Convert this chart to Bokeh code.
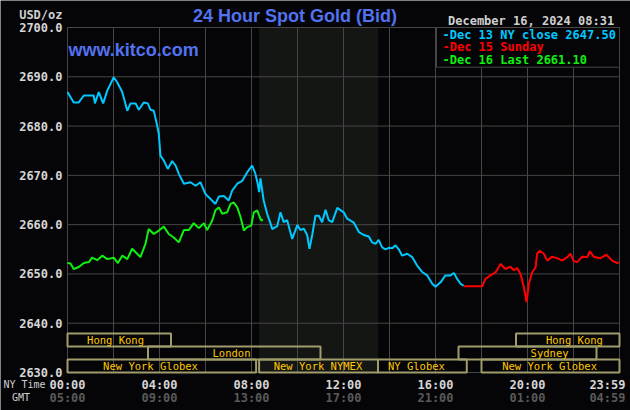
from bokeh.plotting import figure
from bokeh.models import Range1d, ColumnDataSource
from bokeh.core.properties import value
from bokeh.embed import file_html
from bokeh.resources import INLINE

# ---------------- data ----------------
# Dec 13 (NY close 2647.50) - hours of the NY day, price
dec13_h = [0.0, 0.27, 0.49, 0.71, 1.14, 1.19, 1.36, 1.55, 1.73, 2.01, 2.16, 2.38, 2.60, 2.74, 2.96,
           3.10, 3.32, 3.49, 3.61, 3.75, 3.90, 3.97, 4.04, 4.19, 4.36, 4.55, 4.70, 4.84, 5.06, 5.35,
           5.57, 5.78, 6.00, 6.22, 6.43, 6.58, 6.80, 7.01, 7.16, 7.38, 7.60, 7.81, 8.03, 8.17, 8.27,
           8.33, 8.39, 8.53, 8.68, 8.83, 8.90, 9.12, 9.26, 9.40, 9.55, 9.77, 9.99, 10.13, 10.27, 10.42,
           10.52, 10.64, 10.78, 10.93, 11.07, 11.22, 11.36, 11.51, 11.73, 12.01, 12.16, 12.45, 12.67,
           12.88, 13.10, 13.25, 13.39, 13.53, 13.68, 13.83, 13.97, 14.12, 14.26, 14.40, 14.55, 14.77,
           14.99, 15.20, 15.42, 15.64, 15.86, 16.00, 16.22, 16.43, 16.65, 16.80, 16.94, 17.09, 17.23]
dec13_v = [2686.9, 2684.8, 2684.8, 2686.2, 2686.2, 2684.6, 2686.9, 2684.6, 2687.2, 2689.9, 2688.9,
           2686.9, 2683.1, 2684.6, 2684.6, 2683.3, 2684.8, 2684.6, 2683.3, 2683.1, 2680.1, 2678.4,
           2674.0, 2673.0, 2671.3, 2672.9, 2672.0, 2670.3, 2668.3, 2668.6, 2667.9, 2668.6, 2666.2,
           2665.2, 2664.2, 2665.7, 2665.8, 2664.9, 2666.9, 2668.3, 2668.9, 2670.6, 2672.0, 2670.3,
           2668.3, 2666.6, 2669.4, 2664.9, 2662.2, 2660.2, 2659.1, 2659.7, 2662.5, 2660.5, 2660.9,
           2657.1, 2659.9, 2658.9, 2659.2, 2657.9, 2655.1, 2657.9, 2661.8, 2661.8, 2660.5, 2663.0,
           2660.9, 2660.5, 2663.4, 2662.5, 2661.2, 2660.4, 2658.5, 2657.9, 2657.6, 2656.4, 2656.1,
           2656.9, 2655.4, 2655.0, 2655.3, 2655.2, 2655.8, 2655.0, 2653.7, 2654.1, 2653.4, 2651.7,
           2650.4, 2649.7, 2648.0, 2647.4, 2648.3, 2649.7, 2649.7, 2650.2, 2649.0, 2648.0, 2647.6]

# Dec 15 (Sunday)
dec15_h = [17.23, 18.03, 18.17, 18.39, 18.61, 18.83, 19.04, 19.26, 19.40, 19.55, 19.70, 19.84, 19.96,
           20.06, 20.20, 20.35, 20.42, 20.53, 20.71, 20.86, 21.07, 21.29, 21.51, 21.73, 21.87, 22.01,
           22.16, 22.38, 22.60, 22.71, 22.88, 23.17, 23.43, 23.68, 23.90, 23.97]
dec15_v = [2647.5, 2647.5, 2649.0, 2649.7, 2650.3, 2652.0, 2651.0, 2651.5, 2650.7, 2651.2, 2650.0,
           2647.3, 2644.3, 2648.0, 2650.3, 2651.3, 2654.1, 2654.7, 2654.1, 2652.7, 2653.5, 2653.2,
           2652.7, 2653.4, 2654.1, 2652.6, 2652.4, 2653.5, 2653.4, 2654.6, 2653.5, 2653.2, 2653.9,
           2652.7, 2652.2, 2652.4]

# Dec 16 (Last 2661.10)
dec16_h = [0.0, 0.13, 0.27, 0.49, 0.71, 0.93, 1.07, 1.29, 1.51, 1.73, 2.01, 2.19, 2.38, 2.60, 2.81,
           3.03, 3.17, 3.39, 3.53, 3.75, 3.97, 4.19, 4.40, 4.62, 4.84, 5.06, 5.27, 5.49, 5.71, 5.93,
           6.07, 6.29, 6.43, 6.58, 6.73, 6.94, 7.09, 7.23, 7.38, 7.52, 7.67, 7.81, 7.99, 8.10, 8.25,
           8.35, 8.43, 8.49]
dec16_v = [2652.2, 2652.1, 2651.0, 2651.4, 2652.2, 2652.4, 2653.3, 2652.8, 2653.7, 2653.0, 2653.3,
           2652.2, 2653.7, 2653.0, 2655.1, 2654.1, 2653.4, 2656.1, 2659.1, 2658.1, 2658.8, 2659.6,
           2658.1, 2657.4, 2656.4, 2658.9, 2658.9, 2660.3, 2659.3, 2660.3, 2658.9, 2660.8, 2662.9,
           2663.5, 2662.2, 2662.5, 2664.2, 2664.5, 2663.5, 2661.6, 2658.8, 2659.5, 2659.8, 2662.5,
           2662.9, 2661.6, 2660.8, 2661.1]

legend_texts = ["-Dec 13 NY close 2647.50", "-Dec 15 Sunday", "-Dec 16 Last 2661.10"]

y_ticks = [2630, 2640, 2650, 2660, 2670, 2680, 2690, 2700]
y_tick_labels = ["2630.0", "2640.0", "2650.0", "2660.0", "2670.0", "2680.0", "2690.0", "2700.0"]
time_ticks = [0, 4, 8, 12, 16, 20]
ny_time_labels = ["00:00", "04:00", "08:00", "12:00", "16:00", "20:00"]
gmt_time_labels = ["05:00", "09:00", "13:00", "17:00", "21:00", "01:00"]
end_ny_label, end_gmt_label = "23:59", "04:59"
grid_hours = [2, 4, 6, 8, 10, 12, 14, 16, 18, 20, 22]
grid_prices = [2640, 2650, 2660, 2670, 2680, 2690]

session_names = ["Hong Kong", "London", "New York Globex", "New York NYMEX", "NY Globex",
                 "Sydney", "Hong Kong", "New York Globex"]
session_start = [0.0, 3.5, 0.0, 8.33, 13.5, 17.0, 19.5, 18.0]
session_end = [4.5, 11.0, 8.2, 13.5, 17.36, 23.0, 24.0, 24.0]
session_row = [2, 1, 0, 0, 0, 1, 2, 0]
session_label_at = [2.09, 7.13, 3.61, 10.89, 15.17, 20.96, 22.04, 20.96]
nymex_start, nymex_end = 8.33, 13.5

title_text = "24 Hour Spot Gold (Bid)"
site_text = "www.kitco.com"
date_text = "December 16, 2024 08:31"
unit_text = "USD/oz"

# ---------------- style / layout ----------------
BG = "#050507"
SHADE = "#141614"
GRID = "#464646"
CYAN = "#00C8FF"
RED = "#FF0000"
GREEN = "#10F010"
BLUE = "#5272F0"
GOLD = "#FFC800"
TAN = "#A09C6C"
LIGHT = "#D6D6D6"
DARK = "#5A5A5A"
MONO = "DejaVu Sans Mono"
SANS = "Liberation Sans"

W, H = 630, 410
# plot area inside the canvas (pixels)
L, R, T, B = 67, 619, 27, 372
X0, X1, Y0, Y1 = 0.0, 24.0, 2630.0, 2700.0


def sx(px):
    return X0 + (px - L) * (X1 - X0) / (R - L)


def sy(py):
    return Y0 + (B - py) * (Y1 - Y0) / (B - T)


p = figure(width=W, height=H, x_range=Range1d(sx(0), sx(W)), y_range=Range1d(sy(H), sy(0)),
           output_backend="svg", toolbar_location=None,
           x_axis_location=None, y_axis_location=None,
           min_border=0, min_border_left=0, min_border_right=0, min_border_top=0, min_border_bottom=0,
           background_fill_color=BG, border_fill_color=BG, outline_line_color=None)
p.grid.visible = False

# NYMEX shaded hours
p.quad(left=[nymex_start], right=[nymex_end], bottom=[Y0], top=[Y1],
       fill_color=SHADE, line_color=None)

# grid
p.segment(x0=grid_hours, x1=grid_hours, y0=[Y0] * len(grid_hours), y1=[Y1] * len(grid_hours),
          line_color=GRID, line_width=1)
p.segment(x0=[X0] * len(grid_prices), x1=[X1] * len(grid_prices), y0=grid_prices, y1=grid_prices,
          line_color=GRID, line_width=1)
p.quad(left=[X0], right=[X1], bottom=[Y0], top=[Y1], fill_alpha=0, line_color=GRID, line_width=1)

# session bars
row_h = 2.63
ses = ColumnDataSource(dict(
    name=session_names, left=session_start, right=session_end,
    bottom=[Y0 + r * row_h for r in session_row],
    top=[Y0 + (r + 1) * row_h for r in session_row],
    mid=[Y0 + (r + 0.5) * row_h for r in session_row],
    lx=session_label_at))
p.quad(left="left", right="right", bottom="bottom", top="top", source=ses,
       fill_alpha=0, line_color=TAN, line_width=2)
p.text(x="lx", y="mid", text="name", source=ses, text_align="center", text_baseline="middle",
       text_font=value(MONO), text_font_size="10.5px", text_color=GOLD)

# price lines
p.line(dec13_h, dec13_v, line_color=CYAN, line_width=2)
p.line(dec15_h, dec15_v, line_color=RED, line_width=2)
p.line(dec16_h, dec16_v, line_color=GREEN, line_width=2)

# legend box
p.quad(left=[sx(436)], right=[X1], bottom=[sy(66.7)], top=[Y1],
       fill_color=BG, line_color=GRID, line_width=1)
p.text(x=[sx(442)] * 3, y=[sy(34), sy(46), sy(59)], text=legend_texts,
       text_color=[CYAN, RED, GREEN], text_font=value(MONO), text_font_style="bold",
       text_font_size="12px", text_baseline="middle")

# y tick labels
p.text(x=[sx(62)] * len(y_ticks), y=y_ticks, text=y_tick_labels, text_align="right",
       text_baseline="middle", text_font=value(MONO), text_font_style="bold",
       text_font_size="12px", text_color=LIGHT)

# x tick labels (NY time / GMT)
p.text(x=time_ticks, y=[sy(384)] * len(time_ticks), text=ny_time_labels, text_align="center",
       text_baseline="middle", text_font=value(MONO), text_font_style="bold",
       text_font_size="12px", text_color=LIGHT)
p.text(x=time_ticks, y=[sy(397)] * len(time_ticks), text=gmt_time_labels, text_align="center",
       text_baseline="middle", text_font=value(MONO), text_font_style="bold",
       text_font_size="12px", text_color=DARK)
p.text(x=[sx(625), sx(625)], y=[sy(384), sy(397)], text=[end_ny_label, end_gmt_label],
       text_align="right", text_baseline="middle", text_font=value(MONO), text_font_style="bold",
       text_font_size="12px", text_color=[LIGHT, DARK])
p.text(x=[sx(3), sx(11.5)], y=[sy(384), sy(397)], text=["NY Time", "GMT"],
       text_baseline="middle", text_font=value(MONO), text_font_size="10px", text_color="#CFCFCF")

# titles & header texts
p.text(x=[sx(294.5)], y=[sy(15)], text=[title_text], text_color=BLUE, text_font=value(SANS),
       text_font_style="bold", text_font_size="18px", text_align="center", text_baseline="middle")
p.text(x=[sx(68)], y=[sy(49)], text=[site_text], text_color=BLUE, text_font=value(SANS),
       text_font_style="bold", text_font_size="18px", text_baseline="middle")
p.text(x=[sx(447.5)], y=[sy(20)], text=[date_text], text_color="#D0D0D0", text_font=value(MONO),
       text_font_style="bold", text_font_size="12px", text_baseline="middle")
p.text(x=[sx(62)], y=[sy(14)], text=[unit_text], text_color="#D0D0D0", text_font=value(MONO),
       text_font_style="bold", text_font_size="12px", text_align="right", text_baseline="middle")

open("out.html", "w").write(file_html(p, INLINE))
